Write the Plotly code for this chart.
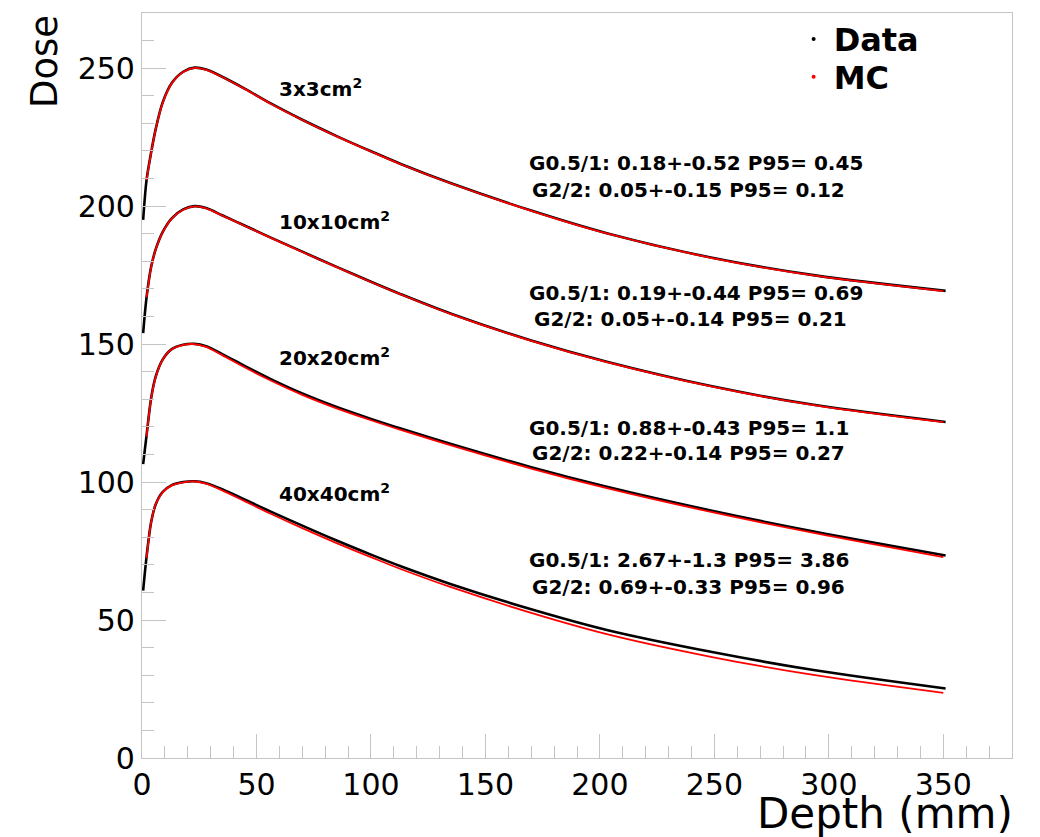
import plotly.graph_objects as go

# Depth grids (mm)
depth_data = [0.5, 2, 4, 6, 9, 13, 18, 23, 28, 35, 45, 56, 70, 85, 100, 113, 135, 170, 203, 249, 294, 351]
depth_mc = [2, 4, 6, 9, 13, 18, 23, 28, 35, 45, 56, 70, 85, 100, 113, 135, 170, 203, 249, 294, 350]

# Field sizes (curves are stacked with offsets of 50 for readability)
fields = ["3x3", "10x10", "20x20", "40x40"]

# Measured depth-dose curves
data_3x3 = [195, 209.5, 219.5, 228, 237.5, 244.6, 248.7, 250.2, 249.5, 246.9, 242.5, 237.3, 231.3,
            225.4, 219.9, 215.3, 208.3, 198.4, 190.2, 181.3, 174.9, 169.3]
data_10x10 = [154, 167, 178, 184.4, 190.6, 195.6, 198.8, 200, 199.3, 196.7, 192.9, 188.7, 183.5,
              178, 172.6, 168.1, 161, 151.3, 143.6, 134.7, 127.9, 121.8]
data_20x20 = [106.5, 117, 130.5, 138.3, 144.4, 148.2, 149.8, 150.1, 149.2, 146.4, 142, 137.4,
              132.1, 127.2, 122.9, 119.4, 113.8, 105.4, 98.3, 89.6, 82, 73.4]
data_40x40 = [60.7, 73, 85.5, 92, 96.4, 98.9, 100, 100.3, 99.6, 97.4, 93.6, 89.4, 84.2, 78.8,
              73.7, 69.5, 63, 53.9, 46.4, 38.4, 31.8, 25.2]

# Monte Carlo depth-dose curves
mc_3x3 = [209.4, 219.4, 227.9, 237.4, 244.5, 248.6, 250.1, 249.4, 246.8, 242.4, 237.2, 231.2,
          225.3, 219.8, 215.2, 208.2, 198.3, 190.1, 181.2, 174.8, 169.2]
mc_10x10 = [166.9, 177.9, 184.3, 190.5, 195.5, 198.7, 199.9, 199.2, 196.6, 192.8, 188.6, 183.4,
            177.9, 172.5, 168, 160.9, 151.2, 143.5, 134.6, 127.8, 121.7]
mc_20x20 = [116.5, 130.3, 138.1, 144.3, 148.1, 149.7, 150, 149, 146, 141.5, 136.9, 131.6,
            126.7, 122.4, 118.9, 113.3, 104.9, 97.8, 89.1, 81.5, 72.8]
mc_40x40 = [72.4, 85.5, 92, 96.3, 98.8, 99.9, 100.2, 99.4, 97, 93, 88.6, 83.3, 77.9, 72.8, 68.5,
            61.9, 52.6, 44.9, 36.6, 30, 23.6]

# Gamma index summaries per field
gamma_1 = ["G0.5/1: 0.18+-0.52 P95= 0.45", "G0.5/1: 0.19+-0.44 P95= 0.69",
           "G0.5/1: 0.88+-0.43 P95= 1.1", "G0.5/1: 2.67+-1.3 P95= 3.86"]
gamma_2 = ["G2/2: 0.05+-0.15 P95= 0.12", "G2/2: 0.05+-0.14 P95= 0.21",
           "G2/2: 0.22+-0.14 P95= 0.27", "G2/2: 0.69+-0.33 P95= 0.96"]

data_series = [data_3x3, data_10x10, data_20x20, data_40x40]
mc_series = [mc_3x3, mc_10x10, mc_20x20, mc_40x40]

FONT = "DejaVu Sans"
AXIS_GREY = "#c4c4c4"

fig = go.Figure()

for name, d in zip(fields, data_series):
    fig.add_trace(go.Scatter(x=depth_data, y=d, mode="lines", showlegend=False,
                             line=dict(color="black", width=2.6, shape="spline", smoothing=0.9),
                             name=f"Data {name}"))
for name, m in zip(fields, mc_series):
    fig.add_trace(go.Scatter(x=depth_mc, y=m, mode="lines", showlegend=False,
                             line=dict(color="red", width=1.8, shape="spline", smoothing=0.9),
                             name=f"MC {name}"))

# Legend entries drawn as small dots, one legend box per entry
fig.add_trace(go.Scatter(x=[None], y=[None], mode="markers", name="Data", legend="legend",
                         marker=dict(color="black", size=4)))
fig.add_trace(go.Scatter(x=[None], y=[None], mode="markers", name="MC", legend="legend2",
                         marker=dict(color="red", size=4)))

# Field-size labels next to each peak
label_y = [243, 194.5, 145.3, 96.2]
for name, y in zip(fields, label_y):
    fig.add_annotation(x=59, y=y, xref="x", yref="y", xanchor="left", yanchor="middle",
                       text=f"<b>{name}cm<sup>2</sup></b>", showarrow=False,
                       font=dict(family=FONT, size=20, color="black"))

# Gamma summaries
g1_y = [215.5, 168.5, 119.6, 71.6]
g2_y = [205.8, 159.1, 110.6, 61.8]
g2_x = [169.5, 170.5, 169.5, 169.5]
for t1, t2, y1, y2, x2 in zip(gamma_1, gamma_2, g1_y, g2_y, g2_x):
    fig.add_annotation(x=168.3, y=y1, xref="x", yref="y", xanchor="left", yanchor="middle",
                       text=f"<b>{t1}</b>", showarrow=False,
                       font=dict(family=FONT, size=20, color="black"))
    fig.add_annotation(x=x2, y=y2, xref="x", yref="y", xanchor="left", yanchor="middle",
                       text=f"<b>{t2}</b>", showarrow=False,
                       font=dict(family=FONT, size=20, color="black"))

# Axis titles placed at the axis ends
fig.add_annotation(x=-0.112, y=1.0, xref="paper", yref="paper", xanchor="center", yanchor="top",
                   text="Dose", textangle=-90, showarrow=False,
                   font=dict(family=FONT, size=37, color="black"))
fig.add_annotation(x=1.004, y=-0.074, xref="paper", yref="paper", xanchor="right", yanchor="middle",
                   text="Depth (mm)", showarrow=False,
                   font=dict(family=FONT, size=42, color="black"))

axis_common = dict(
    showline=True, linecolor=AXIS_GREY, linewidth=1.2, mirror=True,
    showgrid=False, zeroline=False,
    ticks="inside", tickcolor=AXIS_GREY, tickwidth=1.2, ticklen=24,
    tickmode="linear", tick0=0, dtick=50,
    minor=dict(ticks="inside", dtick=10, ticklen=12, tickcolor=AXIS_GREY, tickwidth=1.2, showgrid=False),
    tickfont=dict(family=FONT, size=30, color="black"),
)
fig.update_xaxes(range=[0, 380], **axis_common)
fig.update_yaxes(range=[0, 270], **axis_common)

legend_style = dict(xanchor="left", yanchor="middle", bgcolor="rgba(0,0,0,0)", borderwidth=0,
                    itemwidth=30, font=dict(family=FONT, size=32, color="black", weight="bold"))

fig.update_layout(
    width=1040, height=837,
    margin=dict(l=142, r=28, t=13, b=79),
    paper_bgcolor="white", plot_bgcolor="white",
    font=dict(family=FONT, color="black"),
    legend=dict(x=0.749, y=0.965, **legend_style),
    legend2=dict(x=0.749, y=0.914, **legend_style),
)

fig.write_html("out.html")
